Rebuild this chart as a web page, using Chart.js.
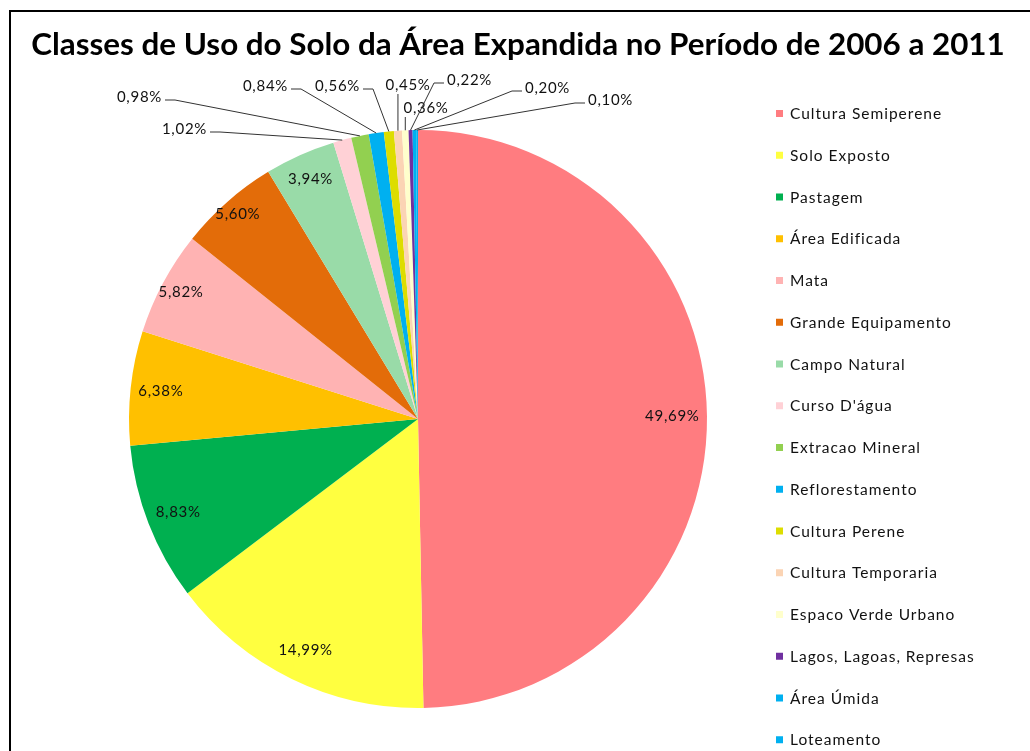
<!DOCTYPE html>
<html>
<head>
<meta charset="utf-8">
<script src="https://cdn.jsdelivr.net/npm/chart.js@4/dist/chart.umd.min.js"></script>
<style>
  body { margin: 0; background: #fff; overflow: hidden; }
  #wrap { position: relative; width: 1030px; height: 751px; }
</style>
</head>
<body>
<div id="wrap"><canvas id="usoSolo" width="1030" height="751"></canvas></div>
<script>
var titulo = "Classes de Uso do Solo da Área Expandida no Período de 2006 a 2011";
var classes = [
  "Cultura Semiperene", "Solo Exposto", "Pastagem", "Área Edificada", "Mata",
  "Grande Equipamento", "Campo Natural", "Curso D'água", "Extracao Mineral",
  "Reflorestamento", "Cultura Perene", "Cultura Temporaria", "Espaco Verde Urbano",
  "Lagos, Lagoas, Represas", "Área Úmida", "Loteamento"
];
var percentuais = [49.69, 14.99, 8.83, 6.38, 5.82, 5.60, 3.94, 1.02, 0.98, 0.84, 0.56, 0.45, 0.36, 0.22, 0.20, 0.10];
var cores = [
  "#FF7C80", "#FFFF40", "#00B050", "#FFC000", "#FFB3B3",
  "#E36C09", "#99DBA8", "#FFD1D6", "#92D050", "#00B0F0",
  "#DDDD00", "#FBD4B4", "#FFFFCC", "#7030A0", "#00B0F0", "#00B0F0"
];

// distancia radial dos rotulos internos (fracao do raio) - so layout
var raioInterno = [0.88, 0.89, 0.89, 0.895, 0.93, 0.945, 0.91];

// posicao dos rotulos externos (relativa ao centro da pizza) - so layout
var rotulosExternos = {
  7:  { dx: -211, dy: -290, tipo: "dir" },
  8:  { dx: -256, dy: -322, tipo: "dir" },
  9:  { dx: -130, dy: -333, tipo: "dir" },
  10: { dx: -58,  dy: -333, tipo: "dir" },
  11: { dx: -10,  dy: -334, tipo: "baixo" },
  12: { dx: 8,    dy: -311, tipo: "baixo" },
  13: { dx: 29,   dy: -339, tipo: "esq" },
  14: { dx: 107,  dy: -331, tipo: "esq" },
  15: { dx: 170,  dy: -319, tipo: "esq" }
};

function fmt(v) {
  return v.toFixed(2).replace(".", ",") + "%";
}

var extras = {
  id: "extras",
  beforeDraw: function (chart) {
    var ctx = chart.ctx;
    ctx.save();
    ctx.strokeStyle = "#000";
    ctx.lineWidth = 2;
    ctx.strokeRect(10, 11, 1100, 900);
    ctx.fillStyle = "#000";
    ctx.font = "bold 31.4px Lato";
    ctx.textAlign = "center";
    ctx.textBaseline = "middle";
    ctx.fillText(titulo, 518, 45);
    ctx.restore();
  },
  afterDatasetsDraw: function (chart) {
    var ctx = chart.ctx;
    var meta = chart.getDatasetMeta(0);
    var valores = chart.data.datasets[0].data;
    ctx.save();
    ctx.font = "15px Lato";
    ctx.letterSpacing = "0.7px";
    ctx.textBaseline = "middle";
    ctx.fillStyle = "#111";
    ctx.strokeStyle = "#333";
    ctx.lineWidth = 1;
    meta.data.forEach(function (arc, i) {
      var p = arc.getProps(["x", "y", "startAngle", "endAngle", "outerRadius"], true);
      var mid = (p.startAngle + p.endAngle) / 2;
      var txt = fmt(valores[i]);
      var pos = rotulosExternos[i];
      if (!pos) {
        ctx.textAlign = "center";
        var r = p.outerRadius * (raioInterno[i] || 0.9);
        ctx.fillText(txt, p.x + Math.cos(mid) * r, p.y + Math.sin(mid) * r);
        return;
      }
      var tx = p.x + pos.dx, ty = p.y + pos.dy;
      var ax = p.x + Math.cos(mid) * p.outerRadius;
      var ay = p.y + Math.sin(mid) * p.outerRadius;
      ctx.beginPath();
      if (pos.tipo === "dir") {
        ctx.textAlign = "right";
        ctx.moveTo(tx + 3, ty + 3);
        ctx.lineTo(tx + 13, ty + 3);
        ctx.lineTo(ax, ay);
      } else if (pos.tipo === "esq") {
        ctx.textAlign = "left";
        ctx.moveTo(tx - 3, ty + 3);
        ctx.lineTo(tx - 13, ty + 3);
        ctx.lineTo(ax, ay);
      } else {
        ctx.textAlign = "center";
        ctx.moveTo(ax, ty + 9);
        ctx.lineTo(ax, ay);
      }
      ctx.stroke();
      ctx.fillText(txt, tx, ty);
    });
    ctx.restore();

    // legenda
    var cs = chart.data.datasets[0].backgroundColor;
    ctx.save();
    ctx.font = "15.5px Lato";
    ctx.letterSpacing = "1px";
    ctx.textBaseline = "middle";
    ctx.textAlign = "left";
    chart.data.labels.forEach(function (lab, i) {
      var y = 114 + i * 41.75;
      ctx.fillStyle = cs[i];
      ctx.fillRect(776, y - 4, 7, 7);
      ctx.fillStyle = "#111";
      ctx.fillText(lab, 790, y);
    });
    ctx.restore();
  }
};

new Chart("usoSolo", {
  type: "pie",
  data: {
    labels: classes,
    datasets: [{
      data: percentuais,
      backgroundColor: cores,
      borderWidth: 0,
      hoverOffset: 0
    }]
  },
  options: {
    responsive: false,
    animation: false,
    events: [],
    layout: { padding: { top: 130, left: 129, right: 323, bottom: 43 } },
    plugins: {
      legend: { display: false },
      title: { display: false },
      tooltip: { enabled: false }
    }
  },
  plugins: [extras]
});
</script>
</body>
</html>
